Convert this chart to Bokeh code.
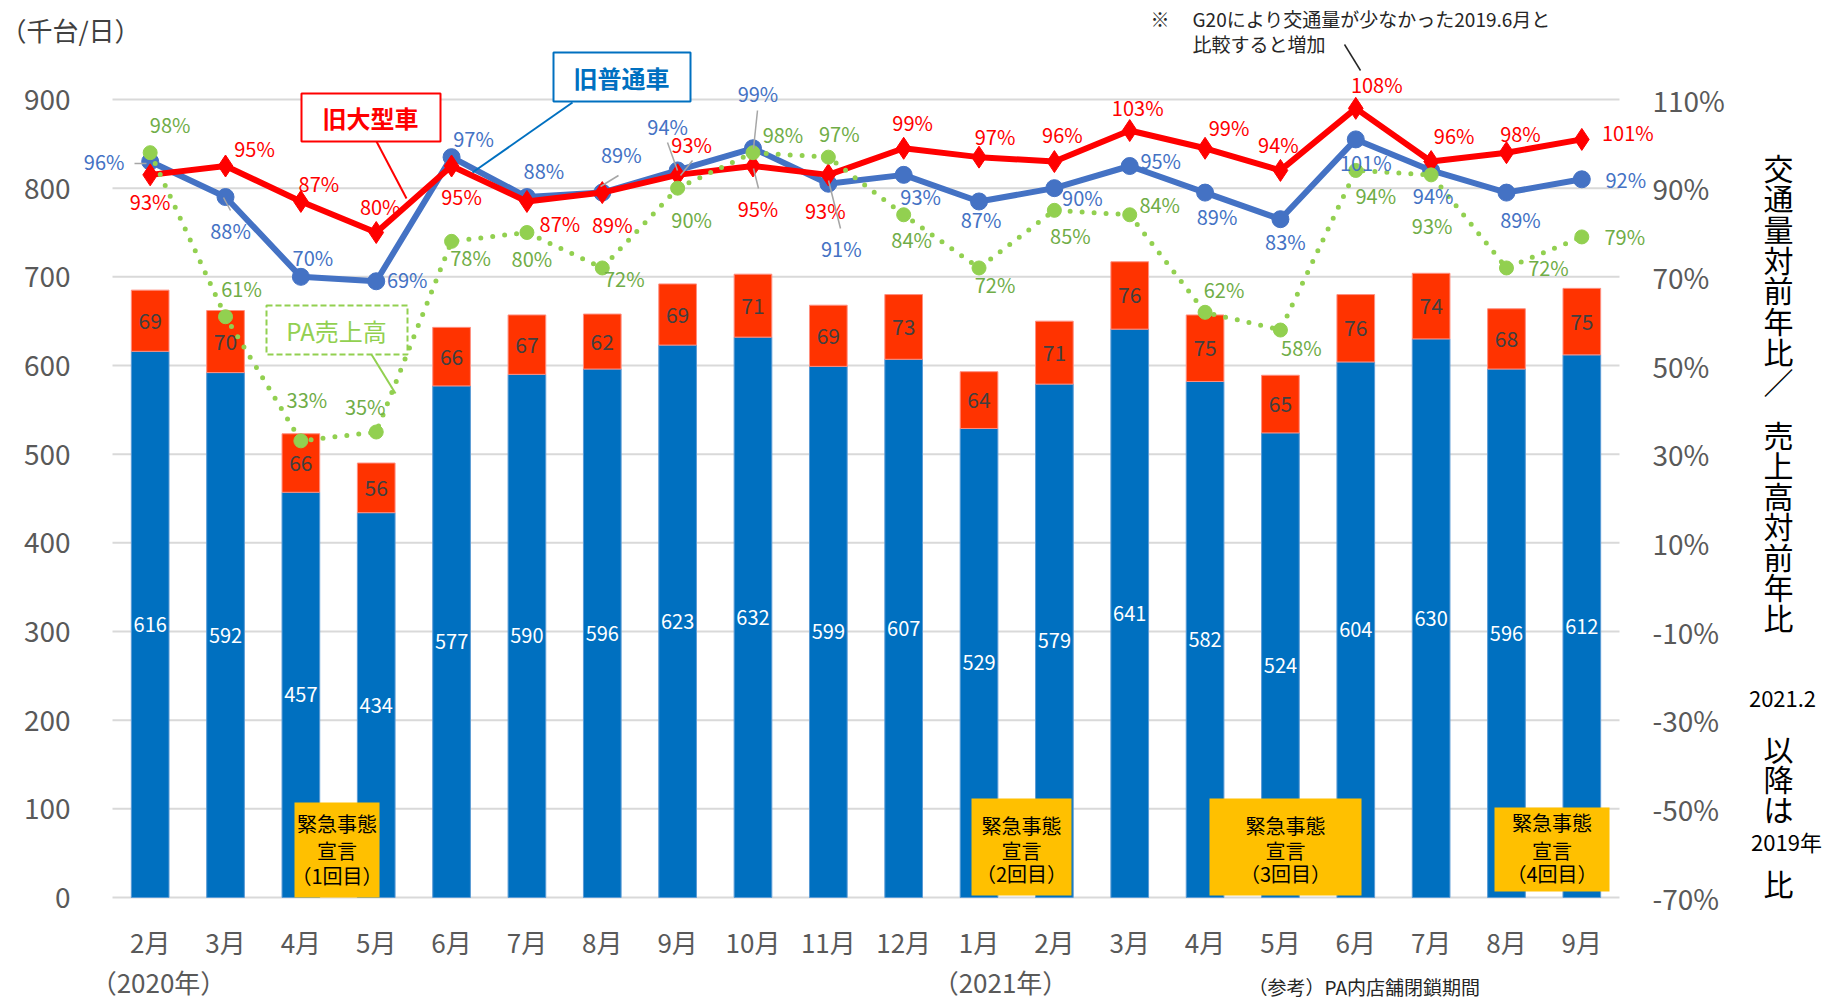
from bokeh.plotting import figure
from bokeh.models import (Range1d, LinearAxis, FixedTicker, PrintfTickFormatter,
                          ColumnDataSource, BoxAnnotation, Label, Arrow)
from bokeh.core.properties import value
from bokeh.embed import file_html
from bokeh.resources import INLINE

# ---------------- data ----------------
months = ["2月", "3月", "4月", "5月", "6月", "7月", "8月", "9月", "10月", "11月", "12月",
          "1月", "2月", "3月", "4月", "5月", "6月", "7月", "8月", "9月"]
ordinary = [616, 592, 457, 434, 577, 590, 596, 623, 632, 599, 607,
            529, 579, 641, 582, 524, 604, 630, 596, 612]          # 旧普通車 (千台/日)
large = [69, 70, 66, 56, 66, 67, 62, 69, 71, 69, 73,
         64, 71, 76, 75, 65, 76, 74, 68, 75]                       # 旧大型車 (千台/日)
ordinary_pct = [96, 88, 70, 69, 97, 88, 89, 94, 99, 91, 93,
                87, 90, 95, 89, 83, 101, 94, 89, 92]
large_pct = [93, 95, 87, 80, 95, 87, 89, 93, 95, 93, 99,
             97, 96, 103, 99, 94, 108, 96, 98, 101]
pa_pct = [98, 61, 33, 35, 78, 80, 72, 90, 98, 97, 84,
          72, 85, 84, 62, 58, 94, 93, 72, 79]
left_ticks = [0, 100, 200, 300, 400, 500, 600, 700, 800, 900]
right_ticks = [-70, -50, -30, -10, 10, 30, 50, 70, 90, 110]

# ---------------- label offsets (screen px) ----------------
ord_off = [(-46, 0), (5, 33), (12, -19), (31, -2), (22, -19), (17, -27), (19, -38), (-10, -44),
           (5, -55), (13, 65), (17, 22), (2, 18), (28, 9), (31, -6), (12, 24), (5, 22),
           (10, 23), (2, 25), (14, 27), (44, 0)]
lg_off = [(0, 27), (29, -18), (18, -18), (4, -26), (10, 30), (33, 22), (10, 32), (14, -30),
          (5, 42), (-3, 36), (9, -26), (16, -21), (8, -27), (8, -23), (24, -21), (-2, -26),
          (21, -24), (23, -26), (14, -19), (46, -7)]
pa_off = [(20, -28), (16, -28), (6, -41), (-11, -26), (19, 16), (5, 26), (22, 11), (14, 31),
          (30, -18), (11, -24), (8, 25), (16, 17), (16, 25), (30, -10), (19, -23), (21, 17),
          (20, 25), (1, 51), (42, 0), (43, 0)]

FONT = "Noto Sans CJK JP"
W, H = 1829, 1001
FL, FR, FT, FB = 112, 1619, 99, 897      # plot area inside the canvas
N = len(months)
L_MIN, L_MAX = 0, 900
P_MIN, P_MAX = -70, 110


def X(px):
    return (px - FL) / (FR - FL) * N - 0.5


def Y(py):
    return L_MIN + (FB - py) / (FB - FT) * (L_MAX - L_MIN)


def P(py):
    return P_MIN + (FB - py) / (FB - FT) * (P_MAX - P_MIN)


# frame covers the whole canvas; axes are drawn at the plot-area edges
p = figure(width=W, height=H, x_range=Range1d(X(0), X(W)), y_range=Range1d(Y(H), Y(0)),
           output_backend="svg", toolbar_location=None, x_axis_location=None,
           y_axis_location=None, min_border=0, outline_line_color=None)
p.extra_y_ranges = {"pct": Range1d(P(H), P(0))}
p.grid.visible = False

xs = list(range(N))

# gridlines at the left-axis ticks across the plot area
p.segment(x0=[-0.5] * len(left_ticks), x1=[N - 0.5] * len(left_ticks), y0=left_ticks,
          y1=left_ticks, line_color="#D9D9D9", line_width=2)

# axes
xaxis = LinearAxis(fixed_location=L_MIN, ticker=FixedTicker(ticks=xs),
                   major_label_overrides={i: m for i, m in enumerate(months)})
yaxis = LinearAxis(fixed_location=-0.5, ticker=FixedTicker(ticks=left_ticks))
raxis = LinearAxis(y_range_name="pct", fixed_location=N - 0.5,
                   ticker=FixedTicker(ticks=right_ticks),
                   formatter=PrintfTickFormatter(format="%d%%"))
p.add_layout(xaxis, "below")
p.add_layout(yaxis, "left")
p.add_layout(raxis, "right")
for ax in [xaxis, yaxis, raxis]:
    ax.axis_line_color = None
    ax.major_tick_line_color = None
    ax.minor_tick_line_color = None
    ax.major_label_text_color = "#595959"
    ax.major_label_text_font = FONT
xaxis.major_label_text_font_size = "26px"
xaxis.major_label_standoff = 19
yaxis.major_label_text_font_size = "28px"
yaxis.major_label_standoff = 36
raxis.major_label_text_font_size = "28px"
raxis.major_label_standoff = 27

# bars
tops = [a + b for a, b in zip(ordinary, large)]
bars = ColumnDataSource(dict(
    x=xs, ordinary=ordinary, large=large, top=tops,
    ord_mid=[a / 2 for a in ordinary], lg_mid=[a + b / 2 for a, b in zip(ordinary, large)],
    ord_txt=[str(v) for v in ordinary], lg_txt=[str(v) for v in large]))
p.vbar(x="x", width=0.5, bottom=0, top="ordinary", source=bars,
       fill_color="#0070C0", line_color="#5B9BD5", line_width=1)
p.vbar(x="x", width=0.5, bottom="ordinary", top="top", source=bars,
       fill_color="#FF3300", line_color="#FF8F80", line_width=1)
p.text(x="x", y="ord_mid", text="ord_txt", source=bars, text_align="center",
       text_baseline="middle", text_font=value(FONT), text_font_size="20px", text_color="white")
p.text(x="x", y="lg_mid", text="lg_txt", source=bars, text_align="center",
       text_baseline="middle", text_font=value(FONT), text_font_size="21px", text_color="#404040")


# lines
def pct_src(vals, offs):
    return ColumnDataSource(dict(x=xs, y=vals, t=[f"{v}%" for v in vals],
                                 dx=[o[0] for o in offs], dy=[o[1] for o in offs]))


s_ord = pct_src(ordinary_pct, ord_off)
s_lg = pct_src(large_pct, lg_off)
s_pa = pct_src(pa_pct, pa_off)

p.line("x", "y", source=s_ord, y_range_name="pct", line_color="#4472C4", line_width=6)
p.scatter("x", "y", source=s_ord, y_range_name="pct", marker="circle", size=17,
          fill_color="#4472C4", line_color="#4472C4")
p.line("x", "y", source=s_lg, y_range_name="pct", line_color="#FF0000", line_width=6)
p.scatter("x", "y", source=s_lg, y_range_name="pct", marker="diamond", size=22,
          fill_color="#FF0000", line_color="#FF0000")
p.line("x", "y", source=s_pa, y_range_name="pct", line_color="#92D050", line_width=5,
       line_dash="0 12", line_cap="round")
p.scatter("x", "y", source=s_pa, y_range_name="pct", marker="circle", size=14,
          fill_color="#92D050", line_color="#92D050")

for src, col in [(s_ord, "#4472C4"), (s_lg, "#FF0000"), (s_pa, "#70AD47")]:
    p.text(x="x", y="y", text="t", source=src, y_range_name="pct", x_offset="dx", y_offset="dy",
           text_align="center", text_baseline="middle", text_font=value(FONT),
           text_font_size="20px", text_color=col)

# leader lines (gray) near crowded labels
for (x0, y0, x1, y1) in [(667, 142, 677, 170), (692, 160, 680, 175), (757, 110, 753, 148),
                         (753, 168, 758, 188), (828, 180, 840, 228), (223, 197, 230, 210),
                         (600, 186, 618, 175), (134, 163, 146, 163)]:
    p.add_layout(Arrow(end=None, x_start=X(x0), y_start=Y(y0), x_end=X(x1), y_end=Y(y1),
                       line_color="#A6A6A6", line_width=1.5))


def label(px, py, text, size, color="black", align="center", bold=False, baseline="middle"):
    p.add_layout(Label(x=X(px), y=Y(py), text=text, text_font=FONT, text_font_size=f"{size}px",
                       text_color=color, text_align=align, text_baseline=baseline,
                       text_font_style="bold" if bold else "normal"))


def box(l, t, r, b, fill, line, dash="solid", lw=2):
    p.add_layout(BoxAnnotation(left=X(l), right=X(r), top=Y(t), bottom=Y(b), fill_color=fill,
                               fill_alpha=1.0, line_color=line, line_width=lw, line_dash=dash,
                               line_alpha=1.0))


def leader(x0, y0, x1, y1, color, lw=2):
    p.add_layout(Arrow(end=None, x_start=X(x0), y_start=Y(y0), x_end=X(x1), y_end=Y(y1),
                       line_color=color, line_width=lw))


# series name boxes
leader(376, 141, 406, 198, "#FF0000")
box(301, 93, 440, 141, "white", "#FF0000")
label(370, 117, "旧大型車", 24, "#FF0000", bold=True)
leader(572, 102, 472, 172, "#0070C0")
box(553, 52, 690, 101, "white", "#0070C0")
label(621, 77, "旧普通車", 24, "#0070C0", bold=True)
leader(371, 354, 395, 393, "#92D050")
box(266, 305, 407, 354, "white", "#92D050", dash="6 3")
label(336, 330, "PA売上高", 24, "#92D050")

# emergency boxes
for (l, t, r, b, n, ys) in [(294, 802, 379, 897, "1", (823, 850, 875)),
                            (971, 798, 1071, 895, "2", (825, 850, 873)),
                            (1209, 798, 1361, 895, "3", (825, 850, 873)),
                            (1494, 807, 1609, 891, "4", (822, 850, 873))]:
    box(l, t, r, b, "#FFC000", None, lw=0)
    cx = (l + r) / 2
    label(cx, ys[0], "緊急事態", 20)
    label(cx, ys[1], "宣言", 20)
    label(cx, ys[2], f"（{n}回目）", 20)

# texts around
label(70, 29, "（千台/日）", 26, "#404040")
label(1150, 18, "※", 19, "#262626", align="left")
label(1192, 18, "G20により交通量が少なかった2019.6月と", 19, "#262626", align="left")
label(1192, 43, "比較すると増加", 19, "#262626", align="left")
leader(1344, 44, 1360, 70, "#262626", lw=1.5)
label(158, 981, "（2020年）", 26, "#595959")
label(1000, 981, "（2021年）", 26, "#595959")
label(1248, 986, "（参考）PA内店舗閉鎖期間", 19, "#262626", align="left")

title_chars = ["交", "通", "量", "対", "前", "年", "比", "／", "売", "上", "高", "対", "前", "年", "比"]
title_y = [166 + 30.7 * i for i in range(8)] + [433 + 30.5 * i for i in range(7)]
for ch, ty in zip(title_chars, title_y):
    label(1778, ty, ch, 30)
label(1782, 698, "2021.2", 22)
for ch, ty in zip(["以", "降", "は"], [747, 777, 807]):
    label(1778, ty, ch, 30)
label(1786, 840, "2019年", 22)
label(1778, 882, "比", 30)

open("out.html", "w").write(file_html(p, INLINE))
